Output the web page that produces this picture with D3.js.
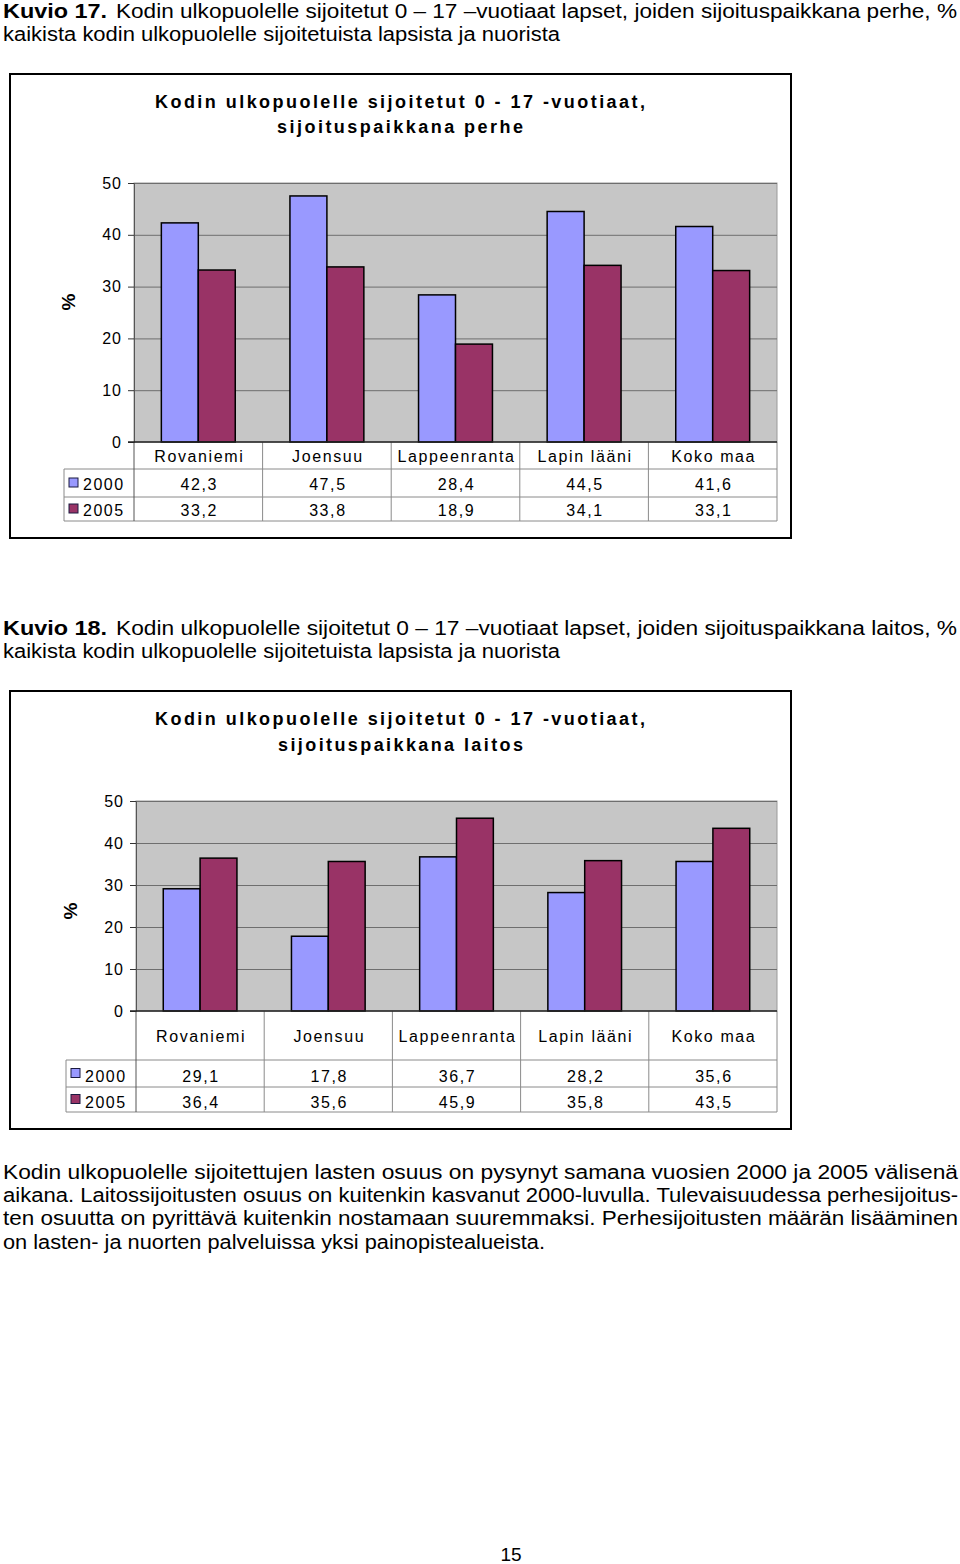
<!DOCTYPE html>
<html>
<head>
<meta charset="utf-8">
<script src="https://cdn.jsdelivr.net/npm/d3@7"></script>
<style>
  body { margin: 0; background: #fff; }
  svg text { font-family: Arial, "Liberation Sans", sans-serif; fill: #000; }
  .narrow { font-family: "Liberation Sans Narrow", "Arial Narrow", Arial, "Liberation Sans", sans-serif !important; }
</style>
</head>
<body>
<svg id="page" width="960" height="1564"></svg>
<script>
var categories = ['Rovaniemi', 'Joensuu', 'Lappeenranta', 'Lapin lääni', 'Koko maa'];
var seriesNames = ['2000', '2005'];
var perhe2000 = [42.3, 47.5, 28.4, 44.5, 41.6];
var perhe2005 = [33.2, 33.8, 18.9, 34.1, 33.1];
var laitos2000 = [29.1, 17.8, 36.7, 28.2, 35.6];
var laitos2005 = [36.4, 35.6, 45.9, 35.8, 43.5];
var yTicks = [0, 10, 20, 30, 40, 50];

var COLORS = { '2000': '#9999FF', '2005': '#993366' };
var PLOT_BG = '#C6C6C6';
var GRID = '#6e6e6e';
var TABLE_LINE = '#8a8a8a';

var fiLocale = d3.formatLocale({ decimal: ',', thousands: ' ', grouping: [3], currency: ['', ' €'] });
var fmt = fiLocale.format('.1f');

var svg = d3.select('#page');

/** one text line stretched to a given width */
function line(x, y, str, width, opts) {
    opts = opts || {};
    var t = svg.append('text')
        .attr('x', x)
        .attr('y', y)
        .attr('font-size', opts.size || 20)
        .attr('font-weight', opts.bold ? 'bold' : 'normal')
        .text(str);
    if (opts.narrow) t.attr('class', 'narrow');
    if (width) t.attr('textLength', width).attr('lengthAdjust', 'spacingAndGlyphs');
    return t;
}

/**
 * Draw a clustered bar chart with a data table below it.
 */
function drawChart(cfg) {
    var data = categories.map(function (c, i) {
        return { cat: c, values: seriesNames.map(function (s, j) { return { key: s, value: cfg.series[j][i] }; }) };
    });

    // outer frame
    svg.append('rect')
        .attr('x', cfg.box.x).attr('y', cfg.box.y)
        .attr('width', cfg.box.w).attr('height', cfg.box.h)
        .attr('fill', '#fff').attr('stroke', '#000').attr('stroke-width', 2);

    // title
    cfg.title.forEach(function (t, i) {
        svg.append('text')
            .attr('x', t.x).attr('y', cfg.titleY[i])
            .attr('font-size', 18).attr('font-weight', 'bold')
            .attr('textLength', t.w).attr('lengthAdjust', 'spacing')
            .text(t.text);
    });

    var x = d3.scaleBand().domain(categories).range([cfg.plot.left, cfg.plot.right]);
    var x1 = d3.scaleBand().domain(seriesNames).range([0, x.bandwidth()]).paddingOuter(0.74);
    var y = d3.scaleLinear().domain([0, 50]).range([cfg.plot.bottom, cfg.plot.top]);

    // plot area
    svg.append('rect')
        .attr('x', cfg.plot.left).attr('y', cfg.plot.top)
        .attr('width', cfg.plot.right - cfg.plot.left)
        .attr('height', cfg.plot.bottom - cfg.plot.top)
        .attr('fill', PLOT_BG).attr('stroke', '#9a9a9a').attr('stroke-width', 1);

    // gridlines
    var grid = svg.append('g')
        .attr('transform', 'translate(' + cfg.plot.left + ',0)')
        .call(d3.axisLeft(y).tickValues(yTicks.slice(1)).tickSize(-(cfg.plot.right - cfg.plot.left)).tickFormat(''));
    grid.select('.domain').remove();
    grid.selectAll('line').attr('stroke', GRID).attr('stroke-width', 1);

    // bars
    var groups = svg.append('g').selectAll('g').data(data).enter().append('g')
        .attr('transform', function (d) { return 'translate(' + x(d.cat) + ',0)'; });
    groups.selectAll('rect').data(function (d) { return d.values; }).enter().append('rect')
        .attr('x', function (d) { return x1(d.key); })
        .attr('y', function (d) { return y(d.value); })
        .attr('width', x1.bandwidth())
        .attr('height', function (d) { return y(0) - y(d.value); })
        .attr('fill', function (d) { return COLORS[d.key]; })
        .attr('stroke', '#000').attr('stroke-width', 1.5);

    // y axis
    var yAxis = svg.append('g')
        .attr('transform', 'translate(' + cfg.plot.left + ',0)')
        .call(d3.axisLeft(y).tickValues(yTicks).tickSize(6).tickPadding(6));
    yAxis.select('.domain').attr('stroke', '#555');
    yAxis.selectAll('line').attr('stroke', '#333');
    yAxis.selectAll('text')
        .attr('font-size', 16).attr('letter-spacing', 1)
        .style('font-family', 'Arial, "Liberation Sans", sans-serif');

    svg.append('text')
        .attr('transform', 'translate(' + cfg.yLabel.x + ',' + cfg.yLabel.y + ') rotate(-90)')
        .attr('text-anchor', 'middle')
        .attr('font-size', 19).attr('font-weight', 'bold')
        .text('%');

    // data table
    var rows = cfg.rows; // [top of categories, top of 2000, top of 2005, bottom]
    var tbl = svg.append('g').attr('stroke', TABLE_LINE).attr('stroke-width', 1);
    [rows[1], rows[2], rows[3]].forEach(function (ry) {
        tbl.append('line').attr('x1', cfg.tableLeft).attr('x2', cfg.plot.right).attr('y1', ry).attr('y2', ry);
    });
    tbl.append('line').attr('x1', cfg.tableLeft).attr('x2', cfg.tableLeft).attr('y1', rows[1]).attr('y2', rows[3]);
    tbl.append('line').attr('x1', cfg.plot.left).attr('x2', cfg.plot.left).attr('y1', rows[0]).attr('y2', rows[3]).attr('stroke', '#555');
    categories.forEach(function (c) {
        var xr = x(c) + x.bandwidth();
        tbl.append('line').attr('x1', xr).attr('x2', xr).attr('y1', rows[0]).attr('y2', rows[3]);
    });
    svg.append('line')
        .attr('x1', cfg.plot.left - 6).attr('x2', cfg.plot.right)
        .attr('y1', rows[0]).attr('y2', rows[0])
        .attr('stroke', '#222').attr('stroke-width', 1.5);

    svg.append('g').selectAll('text').data(categories).enter().append('text')
        .attr('x', function (d) { return x(d) + x.bandwidth() / 2 + 1; })
        .attr('y', cfg.textY[0])
        .attr('text-anchor', 'middle')
        .attr('font-size', 16).attr('letter-spacing', 1.6)
        .text(function (d) { return d; });

    seriesNames.forEach(function (s, j) {
        var ty = cfg.textY[j + 1];
        var mid = (rows[j + 1] + rows[j + 2]) / 2;
        svg.append('rect')
            .attr('x', cfg.tableLeft + 5).attr('y', mid - 5)
            .attr('width', 9).attr('height', 9)
            .attr('fill', COLORS[s]).attr('stroke', '#1a1a40').attr('stroke-width', 1);
        svg.append('text')
            .attr('x', cfg.tableLeft + 19).attr('y', ty)
            .attr('font-size', 16).attr('letter-spacing', 1.5)
            .text(s);
        svg.append('g').selectAll('text').data(cfg.series[j]).enter().append('text')
            .attr('x', function (d, i) { return x(categories[i]) + x.bandwidth() / 2 + 1; })
            .attr('y', ty)
            .attr('text-anchor', 'middle')
            .attr('font-size', 16).attr('letter-spacing', 1.6)
            .text(function (d) { return fmt(d); });
    });
}

// captions
line(3, 18, 'Kuvio 17.', 104, { bold: true, narrow: true });
line(116, 18, 'Kodin ulkopuolelle sijoitetut 0 \u2013 17 \u2013vuotiaat lapset, joiden sijoituspaikkana perhe, %', 841, { narrow: true });
line(3, 41, 'kaikista kodin ulkopuolelle sijoitetuista lapsista ja nuorista', 557, { narrow: true });

line(3, 635, 'Kuvio 18.', 104, { bold: true, narrow: true });
line(116, 635, 'Kodin ulkopuolelle sijoitetut 0 \u2013 17 \u2013vuotiaat lapset, joiden sijoituspaikkana laitos, %', 841, { narrow: true });
line(3, 658, 'kaikista kodin ulkopuolelle sijoitetuista lapsista ja nuorista', 557, { narrow: true });

drawChart({
    series: [perhe2000, perhe2005],
    box: { x: 10, y: 74, w: 781, h: 464 },
    title: [
        { text: 'Kodin ulkopuolelle sijoitetut 0 - 17 -vuotiaat,', x: 155, w: 490 },
        { text: 'sijoituspaikkana perhe', x: 277, w: 246 }
    ],
    titleY: [108, 133],
    plot: { left: 134, right: 777, top: 183, bottom: 442 },
    rows: [442, 469, 497, 521],
    textY: [462, 490, 516],
    tableLeft: 64,
    yLabel: { x: 75, y: 302 }
});

drawChart({
    series: [laitos2000, laitos2005],
    box: { x: 10, y: 691, w: 781, h: 438 },
    title: [
        { text: 'Kodin ulkopuolelle sijoitetut 0 - 17 -vuotiaat,', x: 155, w: 490 },
        { text: 'sijoituspaikkana laitos', x: 278, w: 245 }
    ],
    titleY: [725, 751],
    plot: { left: 136, right: 777, top: 801, bottom: 1011 },
    rows: [1011, 1060, 1087, 1112],
    textY: [1042, 1082, 1108],
    tableLeft: 66,
    yLabel: { x: 77, y: 911 }
});

// body text
line(3, 1179, 'Kodin ulkopuolelle sijoitettujen lasten osuus on pysynyt samana vuosien 2000 ja 2005 välisenä', 955, { narrow: true });
line(3, 1202, 'aikana. Laitossijoitusten osuus on kuitenkin kasvanut 2000-luvulla. Tulevaisuudessa perhesijoitus-', 955, { narrow: true });
line(3, 1225, 'ten osuutta on pyrittävä kuitenkin nostamaan suuremmaksi. Perhesijoitusten määrän lisääminen', 955, { narrow: true });
line(3, 1249, 'on lasten- ja nuorten palveluissa yksi painopistealueista.', 542, { narrow: true });

svg.append('text')
    .attr('x', 511).attr('y', 1561)
    .attr('text-anchor', 'middle')
    .attr('font-size', 19)
    .text('15');
</script>
</body>
</html>
